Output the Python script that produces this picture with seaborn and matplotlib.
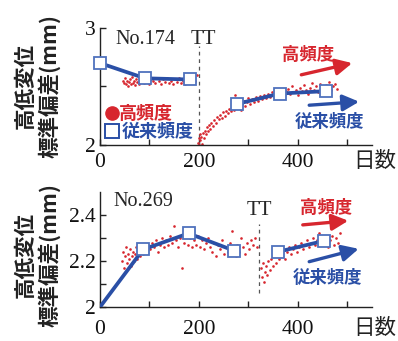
import numpy as np
import pandas as pd
import matplotlib
matplotlib.use("Agg")
import matplotlib.pyplot as plt
import seaborn as sns

# ---------------- data ----------------
# No.174 : high-frequency measurements (red dots)
n174_hf_x1 = [46, 48, 50, 52, 54, 56, 58, 60, 62, 64, 66, 68, 70, 72, 75, 78, 80, 84, 88, 92,
              96, 100, 104, 108, 112, 116, 120, 124, 128, 132, 136, 140, 144, 148, 152, 156,
              160, 164, 168, 172, 176, 180, 184, 188, 192, 196]
n174_hf_y1 = [2.55, 2.53, 2.57, 2.52, 2.55, 2.50, 2.54, 2.56, 2.52, 2.58, 2.53, 2.55, 2.51, 2.56,
              2.54, 2.52, 2.57, 2.55, 2.53, 2.56, 2.54, 2.52, 2.56, 2.55, 2.53, 2.57, 2.55, 2.52,
              2.56, 2.54, 2.57, 2.53, 2.55, 2.52, 2.56, 2.54, 2.57, 2.53, 2.55, 2.52, 2.56, 2.54,
              2.53, 2.57, 2.55, 2.60]
n174_hf_x2 = [199, 200, 201, 202, 203, 205, 206, 208, 210, 212, 214, 216, 218, 220, 222, 225,
              228, 231, 234, 237, 240, 243, 246, 249, 252, 255, 258, 261, 264, 267, 270, 272,
              273, 276, 279, 282, 285, 288, 291, 294, 297, 300, 304, 308, 312, 316, 320, 324,
              328, 332, 336, 340, 344, 348, 352, 356, 360, 364, 368, 372, 376, 380, 384, 388,
              392, 396, 400, 404, 408, 412, 416, 420, 424, 428, 432, 436, 440, 444, 448, 452,
              456, 460, 464, 468, 472, 476, 480]
n174_hf_y2 = [2.02, 2.06, 2.00, 2.09, 2.04, 2.07, 2.01, 2.10, 2.06, 2.12, 2.09, 2.15, 2.12, 2.17,
              2.14, 2.19, 2.16, 2.21, 2.19, 2.24, 2.22, 2.26, 2.23, 2.28, 2.25, 2.29, 2.27, 2.31,
              2.29, 2.33, 2.30, 2.43, 2.34, 2.37, 2.32, 2.36, 2.30, 2.35, 2.38, 2.33, 2.37, 2.40,
              2.35, 2.39, 2.37, 2.41, 2.38, 2.42, 2.39, 2.43, 2.40, 2.44, 2.41, 2.45, 2.42, 2.46,
              2.43, 2.47, 2.44, 2.42, 2.46, 2.48, 2.44, 2.50, 2.45, 2.47, 2.43, 2.49, 2.46, 2.51,
              2.47, 2.44, 2.49, 2.53, 2.47, 2.50, 2.45, 2.52, 2.48, 2.46, 2.51, 2.49, 2.54, 2.47,
              2.50, 2.52, 2.48]
# No.174 : conventional inspections (blue squares)
n174_cv_x1 = [0, 91, 181]
n174_cv_y1 = [2.70, 2.57, 2.56]
n174_cv_x2 = [276, 364, 456]
n174_cv_y2 = [2.35, 2.44, 2.46]

# No.269 : high-frequency measurements
n269_hf_x1 = [45, 47, 49, 51, 53, 55, 57, 59, 61, 63, 65, 67, 69, 71, 73, 75, 78, 81, 84, 87,
              90, 94, 98, 102, 106, 110, 114, 118, 122, 126, 130, 134, 138, 142, 146, 150, 154,
              158, 162, 166, 170, 174, 178, 182, 186, 190, 194, 198, 202, 206, 210, 214, 218,
              222, 226, 230, 234, 238, 242, 246, 250, 254, 258, 262, 266, 270, 274, 278, 282,
              286, 290, 294, 298, 302, 306, 310, 314, 318]
n269_hf_y1 = [2.20, 2.24, 2.17, 2.22, 2.26, 2.19, 2.23, 2.21, 2.25, 2.18, 2.22, 2.24, 2.20, 2.23,
              2.26, 2.21, 2.24, 2.22, 2.25, 2.23, 2.26, 2.24, 2.27, 2.25, 2.28, 2.26, 2.29, 2.24,
              2.27, 2.30, 2.26, 2.29, 2.27, 2.31, 2.28, 2.35, 2.29, 2.26, 2.30, 2.17, 2.28, 2.31,
              2.27, 2.30, 2.26, 2.29, 2.27, 2.31, 2.26, 2.29, 2.25, 2.28, 2.30, 2.26, 2.24, 2.28,
              2.22, 2.27, 2.25, 2.29, 2.23, 2.26, 2.24, 2.28, 2.33, 2.25, 2.22, 2.27, 2.24, 2.30,
              2.26, 2.23, 2.28, 2.25, 2.29, 2.27, 2.30, 2.26]
n269_hf_x2 = [326, 328, 330, 332, 334, 336, 338, 340, 343, 346, 349, 352, 355, 358, 361, 364,
              367, 370, 374, 378, 382, 386, 390, 394, 398, 402, 406, 410, 414, 418, 422, 426,
              430, 434, 438, 442, 446, 450, 454, 458, 462, 466, 470, 474, 478, 482, 486]
n269_hf_y2 = [2.17, 2.13, 2.19, 2.11, 2.15, 2.18, 2.14, 2.20, 2.16, 2.21, 2.18, 2.22, 2.19, 2.23,
              2.21, 2.24, 2.22, 2.25, 2.21, 2.24, 2.26, 2.23, 2.25, 2.27, 2.24, 2.26, 2.28, 2.25,
              2.27, 2.29, 2.26, 2.28, 2.30, 2.27, 2.29, 2.32, 2.27, 2.30, 2.28, 2.31, 2.26, 2.29,
              2.31, 2.27, 2.30, 2.28, 2.32]
n269_cv_x1 = [0, 87, 179, 271]
n269_cv_y1 = [2.00, 2.25, 2.32, 2.245]
n269_cv_x2 = [360, 452]
n269_cv_y2 = [2.24, 2.287]

x_ticks = [0, 100, 200, 300, 400, 500]
x_labels = ["0", "", "200", "", "400", ""]

RED = "#d7262e"
BLUE = "#2a4fa6"
SQ_EDGE = "#4f72bd"

# ---------------- style ----------------
sns.set_theme(style="ticks")
plt.rcParams["font.family"] = ["Liberation Serif", "Noto Sans CJK JP"]
JP = ["Noto Sans CJK JP", "DejaVu Sans"]

fig = plt.figure(figsize=(3.98, 3.41), dpi=100)
ax1 = fig.add_axes([0.2513, 0.5748, 0.6834, 0.3431])
ax2 = fig.add_axes([0.2513, 0.0997, 0.6834, 0.3373])


def draw_dots(ax, x, y):
    sns.scatterplot(x=x, y=y, ax=ax, color=RED, s=3.6, linewidth=0, zorder=2, legend=False)


def draw_conv(ax, x, y, first_marker=True):
    sns.lineplot(x=x, y=y, ax=ax, color=BLUE, lw=2.7, sort=False, estimator=None,
                 zorder=3, legend=False)
    xs = x if first_marker else x[1:]
    ys = y if first_marker else y[1:]
    ax.plot(xs, ys, ls="none", marker="s", ms=8.5, mfc="white", mec=SQ_EDGE,
            mew=1.3, zorder=4, clip_on=False)


def arrow(ax, x0, y0, x1, y1, color):
    ax.annotate("", xy=(x1, y1), xytext=(x0, y0),
                arrowprops=dict(arrowstyle="-|>,head_length=0.7,head_width=0.35",
                                color=color, lw=2.4, mutation_scale=14,
                                shrinkA=0, shrinkB=0))


def style_axes(ax, ylim, yticks, ylabels, ylabel_y, xpad, xlab_y):
    ax.set_xlim(0, 550)
    ax.set_ylim(*ylim)
    ax.set_xticks(x_ticks)
    ax.set_xticklabels(x_labels)
    ax.set_yticks(yticks)
    ax.set_yticklabels(ylabels)
    ax.tick_params(direction="in", length=4, width=1, colors="#222222",
                   labelsize=15.5, labelcolor="#111111")
    ax.tick_params(axis="x", pad=xpad)
    ax.tick_params(axis="y", pad=3)
    sns.despine(ax=ax)
    for s in ["left", "bottom"]:
        ax.spines[s].set_linewidth(1.0)
        ax.spines[s].set_color("#222222")
    ax.set_xlabel("")
    ax.set_ylabel("高低変位\n標準偏差(mm)", family=JP, fontsize=15.5, fontweight="bold",
                  linespacing=1.1, color="#222222")
    ax.yaxis.set_label_coords(-0.145, ylabel_y)
    ax.text(1.01, xlab_y, "日数", transform=ax.transAxes, family=JP, fontsize=15.5,
            ha="center", va="center", color="#222222")


# ---------------- top: No.174 ----------------
draw_dots(ax1, n174_hf_x1, n174_hf_y1)
draw_dots(ax1, n174_hf_x2, n174_hf_y2)
draw_conv(ax1, n174_cv_x1, n174_cv_y1)
draw_conv(ax1, n174_cv_x2, n174_cv_y2)
ax1.plot([200, 200], [2.0, 2.85], ls=(0, (3, 3)), color="#555555", lw=0.9, zorder=1)
ax1.text(210, 2.9, "TT", ha="center", va="center", fontsize=15)
ax1.text(91, 2.9, "No.174", ha="center", va="center", fontsize=14.5)

arrow(ax1, 407, 2.60, 510, 2.70, RED)
ax1.text(420, 2.77, "高頻度", color=RED, family=JP, fontsize=12.5, fontweight="bold",
         ha="center", va="center")
arrow(ax1, 423, 2.34, 524, 2.37, BLUE)
ax1.text(464, 2.20, "従来頻度", color=BLUE, family=JP, fontsize=12.5, fontweight="bold",
         ha="center", va="center")

# legend
ax1.plot([24], [2.272], ls="none", marker="o", ms=9.5, color=RED, zorder=5)
ax1.text(39, 2.272, "高頻度", color=RED, family=JP, fontsize=13, fontweight="bold",
         va="center")
ax1.plot([24], [2.12], ls="none", marker="s", ms=9.5, mfc="white", mec=BLUE, mew=1.4, zorder=5)
ax1.text(43, 2.12, "従来頻度", color=BLUE, family=JP, fontsize=13, fontweight="bold",
         va="center")

style_axes(ax1, (2, 3), [2, 2.5, 3], ["2", "", "3"], 0.5, 6, -0.14)

# ---------------- bottom: No.269 ----------------
draw_dots(ax2, n269_hf_x1, n269_hf_y1)
draw_dots(ax2, n269_hf_x2, n269_hf_y2)
draw_conv(ax2, n269_cv_x1, n269_cv_y1, first_marker=False)
draw_conv(ax2, n269_cv_x2, n269_cv_y2)
ax2.plot([321, 321], [2.06, 2.36], ls=(0, (3, 3)), color="#555555", lw=0.9, zorder=1)
ax2.text(323, 2.42, "TT", ha="center", va="center", fontsize=15)
ax2.text(87, 2.457, "No.269", ha="center", va="center", fontsize=14.5)

arrow(ax2, 410, 2.357, 502, 2.375, RED)
ax2.text(457, 2.43, "高頻度", color=RED, family=JP, fontsize=12.5, fontweight="bold",
         ha="center", va="center")
arrow(ax2, 423, 2.197, 523, 2.253, BLUE)
ax2.text(460, 2.125, "従来頻度", color=BLUE, family=JP, fontsize=12.5, fontweight="bold",
         ha="center", va="center")

style_axes(ax2, (2, 2.5), [2.0, 2.1, 2.2, 2.3, 2.4], ["2", "", "2.2", "", "2.4"], 0.45,
           9, -0.18)

fig.savefig("out.png", dpi=100)
